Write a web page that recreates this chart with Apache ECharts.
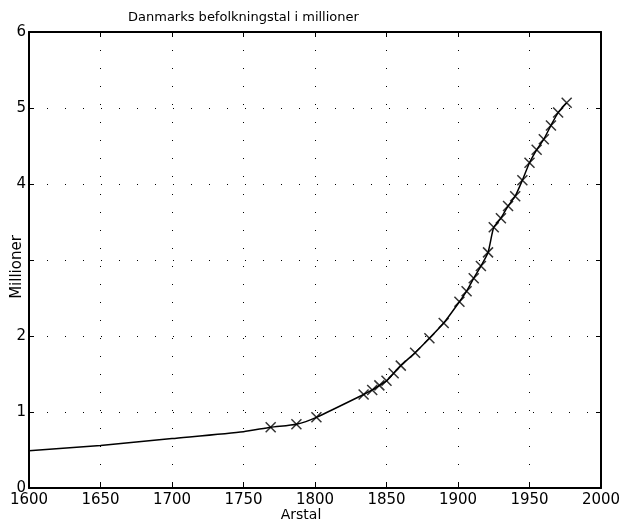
<!DOCTYPE html>
<html>
<head>
<meta charset="utf-8">
<script src="https://cdn.jsdelivr.net/npm/echarts@6.0.0/dist/echarts.min.js"></script>
<style>
  html, body { margin: 0; padding: 0; background: #fff; }
  #chart { width: 627px; height: 523px; }
</style>
</head>
<body>
<div id="chart"></div>
<script>
// estimated curve before the first census (no markers)
const earlyYears = [1600, 1650, 1700, 1750];
const earlyValues = [0.49, 0.56, 0.65, 0.74];

// census points (millions)
const censusYears = [1769, 1787, 1801, 1834, 1840, 1845, 1850, 1855, 1860, 1870, 1880, 1890,
  1901, 1906, 1911, 1916, 1921, 1925, 1930, 1935, 1940, 1945, 1950, 1955, 1960, 1965, 1970, 1976];
const censusValues = [0.80, 0.84, 0.93, 1.23, 1.29, 1.35, 1.41, 1.51, 1.61, 1.78, 1.97, 2.17,
  2.45, 2.59, 2.76, 2.92, 3.10, 3.43, 3.55, 3.71, 3.84, 4.05, 4.28, 4.45, 4.59, 4.77, 4.94, 5.07];

const xTicks = { min: 1600, max: 2000, interval: 50 };
const yTicks = { min: 0, max: 6, interval: 1 };
// the "3" label is hidden under the axis name in the original
const yHidden = [3];

const fontFam = '"DejaVu Sans", sans-serif';
const dotted = { color: '#000', width: 1, type: [1, 17] };
const border = { show: true, onZero: false, lineStyle: { color: '#000', width: 2 } };
const tick = { show: true, inside: true, length: 5, lineStyle: { color: '#000', width: 1 } };

let curve = earlyYears.map((y, i) => [y, earlyValues[i]])
  .concat(censusYears.map((y, i) => [y, censusValues[i]]));
let marks = censusYears.map((y, i) => [y, censusValues[i]]);

let option = {
  animation: false,
  backgroundColor: '#fff',
  title: {
    text: 'Danmarks befolkningstal i millioner',
    left: 123,
    top: 6,
    textStyle: { fontFamily: fontFam, fontSize: 13, fontWeight: 'normal', color: '#000' }
  },
  grid: { left: 29, right: 26, top: 32, bottom: 35, containLabel: false, outerBoundsMode: 'none' },
  xAxis: [{
    type: 'value',
    position: 'bottom',
    min: xTicks.min, max: xTicks.max, interval: xTicks.interval,
    name: 'Arstal',
    nameLocation: 'middle',
    nameGap: 20,
    nameMoveOverlap: false,
    // pushed a little left of centre, like the original
    nameTextStyle: { fontFamily: fontFam, fontSize: 14, color: '#000', padding: [0, 28, 0, 0] },
    axisLine: border,
    axisTick: tick,
    axisLabel: { fontFamily: fontFam, fontSize: 15, color: '#000', margin: 5, formatter: v => String(v) },
    splitLine: { show: true, lineStyle: dotted }
  }, {
    type: 'value',
    position: 'top',
    min: xTicks.min, max: xTicks.max, interval: xTicks.interval,
    axisLine: border,
    axisTick: tick,
    axisLabel: { show: false },
    splitLine: { show: false }
  }],
  yAxis: [{
    type: 'value',
    position: 'left',
    min: yTicks.min, max: yTicks.max, interval: yTicks.interval,
    name: 'Millioner',
    nameLocation: 'middle',
    nameGap: 4,
    nameMoveOverlap: false,
    // rotated text: right padding moves it down a few pixels
    nameTextStyle: { fontFamily: fontFam, fontSize: 15, color: '#000', padding: [0, 14, 0, 0] },
    axisLine: border,
    axisTick: tick,
    axisLabel: {
      fontFamily: fontFam, fontSize: 15, color: '#000', margin: 3,
      formatter: v => (yHidden.indexOf(v) >= 0 ? '' : String(v))
    },
    splitLine: { show: true, lineStyle: dotted }
  }, {
    type: 'value',
    position: 'right',
    min: yTicks.min, max: yTicks.max, interval: yTicks.interval,
    axisLine: border,
    axisTick: tick,
    axisLabel: { show: false },
    splitLine: { show: false }
  }],
  series: [{
    type: 'line',
    data: curve,
    smooth: 0.2,
    showSymbol: false,
    lineStyle: { color: '#000', width: 1.5 }
  }, {
    type: 'scatter',
    data: marks,
    symbol: 'path://M0,0L10,10M10,0L0,10',
    symbolSize: 10,
    itemStyle: { color: 'rgba(0,0,0,0)', borderColor: '#000', borderWidth: 1.5 }
  }]
};

let myChart = echarts.init(document.getElementById('chart'));
myChart.setOption(option);
</script>
</body>
</html>
